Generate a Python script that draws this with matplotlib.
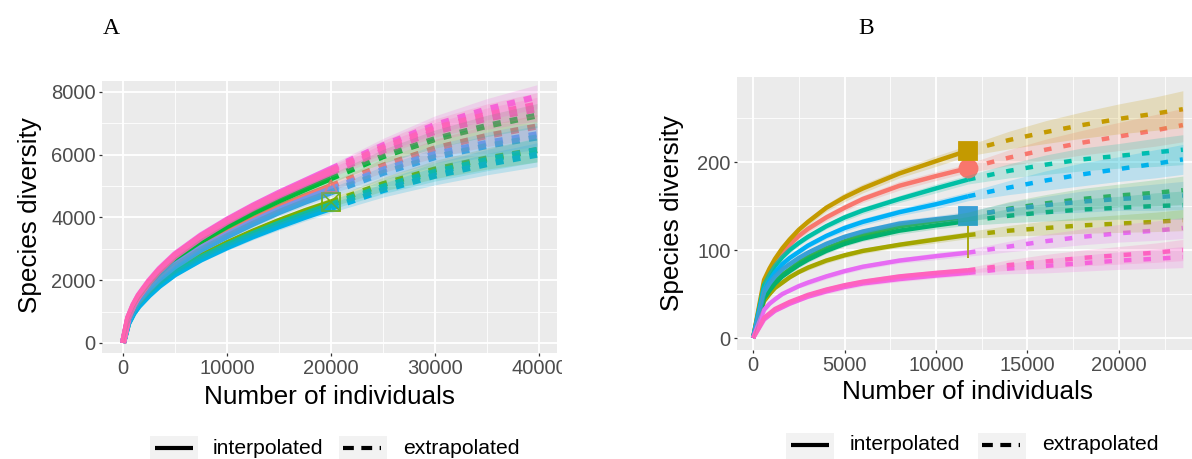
import matplotlib.pyplot as plt
from matplotlib.lines import Line2D
from matplotlib.patches import Rectangle

plt.rcParams['font.family'] = ['Liberation Sans', 'DejaVu Sans']

# ---------------- panel A data ----------------
a_x = [0, 500, 1000, 1500, 2500, 3500, 5000, 7500, 10000, 12500, 15000, 17500, 20000,
       25000, 30000, 35000, 39800]
a_split = 12  # last interpolated point
a_colors = ['#F8766D', '#7CAE00', '#00BA38', '#00BFB8', '#00B0E8',
            '#619CFF', '#3AA6DC', '#FF61C3', '#F564E3', '#FF64B0']
a_series = [
    [0, 720, 1090, 1360, 1770, 2110, 2540, 3090, 3550, 3960, 4340, 4680, 5000, 5650, 6200, 6600, 6900],
    [0, 650, 980, 1220, 1590, 1900, 2280, 2770, 3180, 3550, 3890, 4200, 4480, 5060, 5530, 5880, 6150],
    [0, 760, 1140, 1430, 1860, 2220, 2670, 3250, 3720, 4150, 4540, 4900, 5250, 5950, 6500, 6920, 7250],
    [0, 640, 960, 1200, 1560, 1860, 2240, 2720, 3120, 3480, 3810, 4110, 4400, 4980, 5450, 5830, 6150],
    [0, 620, 940, 1170, 1520, 1820, 2190, 2660, 3050, 3400, 3720, 4020, 4300, 4870, 5330, 5700, 6000],
    [0, 710, 1070, 1340, 1740, 2080, 2490, 3030, 3460, 3870, 4250, 4580, 4900, 5520, 6020, 6380, 6650],
    [0, 700, 1050, 1310, 1700, 2040, 2440, 2970, 3400, 3800, 4170, 4500, 4800, 5420, 5920, 6280, 6550],
    [0, 790, 1185, 1480, 1925, 2300, 2760, 3350, 3860, 4300, 4700, 5070, 5430, 6130, 6730, 7150, 7450],
    [0, 810, 1215, 1520, 1975, 2360, 2830, 3430, 3930, 4380, 4790, 5170, 5550, 6300, 6950, 7450, 7850],
    [0, 800, 1200, 1500, 1950, 2330, 2800, 3400, 3900, 4350, 4750, 5130, 5500, 6230, 6850, 7280, 7600],
]
a_ci = [0, 15, 25, 30, 45, 55, 65, 85, 100, 110, 120, 130, 140, 220, 290, 340, 380]
a_markers = {0: '^', 1: 's'}

# ---------------- panel B data ----------------
b_x = [0, 600, 900, 1200, 1600, 2000, 2500, 3000, 4000, 5000, 6000, 8000, 10000, 11750,
       14000, 16000, 18000, 20000, 22000, 23500]
b_split = 13
b_colors = ['#F8766D', '#C49A00', '#A3A500', '#2DB34A', '#00B070', '#00BFA5',
            '#00B0F6', '#3A9FD6', '#E76BF3', '#F564E3', '#FF62BC']
b_series = [
    [0, 62, 75, 86, 97, 106, 116, 124, 137, 148, 158, 173, 184, 193, 205, 214, 222, 229, 236, 242],
    [0, 66, 79, 90, 102, 112, 123, 132, 148, 160, 170, 187, 201, 213, 225, 234, 242, 249, 255, 260],
    [0, 42, 50, 57, 63, 69, 75, 80, 88, 94, 99, 106, 112, 117, 122, 125, 128, 130, 132, 134],
    [0, 46, 56, 64, 72, 78, 86, 92, 102, 110, 117, 127, 133, 138, 147, 153, 158, 162, 165, 168],
    [0, 45, 54, 62, 70, 76, 83, 89, 99, 107, 113, 122, 128, 133, 139, 143, 146, 148, 150, 151],
    [0, 60, 72, 82, 92, 100, 108, 115, 127, 137, 145, 158, 170, 180, 190, 197, 203, 207, 211, 214],
    [0, 55, 66, 75, 84, 91, 98, 105, 116, 125, 132, 143, 152, 161, 171, 179, 186, 192, 198, 203],
    [0, 52, 62, 70, 78, 84, 91, 97, 107, 115, 121, 130, 135, 139, 146, 151, 155, 158, 160, 162],
    [0, 32, 39, 44, 50, 54, 59, 63, 70, 76, 81, 88, 93, 97, 104, 110, 115, 119, 122, 125],
    [0, 21, 26, 31, 35, 39, 43, 47, 53, 58, 62, 67, 71, 74, 79, 82, 85, 88, 90, 92],
    [0, 23, 28, 33, 37, 41, 45, 49, 55, 60, 64, 70, 74, 77, 83, 87, 91, 94, 97, 100],
]
b_ci = [
    [0, 2, 2, 2, 3, 3, 3, 4, 4, 4, 4, 5, 5, 5, 9, 12, 14, 16, 18, 19],
    [0, 2, 2, 3, 3, 3, 3, 4, 4, 5, 5, 5, 6, 6, 10, 13, 15, 17, 19, 21],
    [0, 1, 1, 2, 2, 2, 2, 3, 3, 3, 3, 3, 4, 4, 6, 8, 9, 10, 11, 12],
    [0, 2, 2, 2, 2, 3, 3, 3, 3, 3, 3, 4, 4, 5, 8, 10, 12, 13, 15, 16],
    [0, 2, 2, 2, 2, 3, 3, 3, 3, 3, 3, 4, 4, 5, 8, 10, 12, 13, 15, 16],
    [0, 2, 2, 2, 3, 3, 3, 3, 3, 4, 4, 4, 5, 5, 8, 11, 13, 14, 16, 17],
    [0, 2, 2, 2, 3, 3, 3, 3, 3, 4, 4, 4, 5, 5, 8, 11, 13, 14, 16, 17],
    [0, 2, 2, 2, 2, 3, 3, 3, 3, 3, 3, 4, 4, 5, 8, 10, 12, 13, 15, 16],
    [0, 1, 1, 2, 2, 2, 2, 3, 3, 3, 3, 3, 4, 4, 6, 8, 9, 10, 11, 12],
    [0, 1, 1, 2, 2, 2, 2, 2, 3, 3, 3, 3, 3, 3, 6, 8, 9, 10, 11, 12],
    [0, 1, 1, 2, 2, 2, 2, 2, 3, 3, 3, 3, 3, 3, 6, 8, 9, 10, 11, 12],
]
b_markers = {0: 'o', 1: 's', 2: '|', 3: '*', 7: 's'}


def style_axes(ax, xmaj, xmin, ymaj, ymin):
    ax.set_facecolor('#EBEBEB')
    for s in ax.spines.values():
        s.set_visible(False)
    ax.set_xticks(xmaj)
    ax.set_xticks(xmin, minor=True)
    ax.set_yticks(ymaj)
    ax.set_yticks(ymin, minor=True)
    ax.grid(which='major', color='white', lw=1.3)
    ax.grid(which='minor', color='white', lw=0.6)
    ax.set_axisbelow(True)
    ax.tick_params(which='major', length=2.5, width=0.9, color='#333333',
                   labelcolor='#4D4D4D', labelsize=14.5, pad=2)
    ax.tick_params(which='minor', length=0)


def draw_panel(ax, x, series, cis, split, colors, markers, lw, dashes, msize, hollow):
    # observed points
    for i, m in markers.items():
        y = series[i]
        size = msize * 0.7 if m == '^' else msize
        if m == '|':
            size = msize * 2.6
        ax.plot(x[split], y[split], marker=m, ms=size, color=colors[i],
                mfc='none' if hollow else colors[i], mew=1.3, zorder=3)
        if hollow and m == 's':
            ax.plot(x[split], y[split], marker='x', ms=msize * 0.9,
                    color=colors[i], mew=1.1, zorder=3)
    for y, c in zip(series, colors):
        ax.plot(x[:split + 1], y[:split + 1], color=c, lw=lw,
                solid_capstyle='butt', zorder=2)
        ax.plot(x[split:], y[split:], color=c, lw=lw, dashes=dashes,
                dash_capstyle='butt', zorder=2)
    for y, ci, c in zip(series, cis, colors):
        lo = [v - e for v, e in zip(y, ci)]
        hi = [v + e for v, e in zip(y, ci)]
        ax.fill_between(x, lo, hi, color=c, alpha=0.2, lw=0, zorder=4)


fig = plt.figure(figsize=(11.92, 4.59), dpi=100)
W, H = 1192.0, 459.0

axA = fig.add_axes([102 / W, 1 - 353 / H, 455 / W, 272 / H])
style_axes(axA, [0, 10000, 20000, 30000, 40000], [5000, 15000, 25000, 35000],
           [0, 2000, 4000, 6000, 8000], [1000, 3000, 5000, 7000])
draw_panel(axA, a_x, a_series, [a_ci] * len(a_series), a_split, a_colors,
           a_markers, 4.4, (1.3, 1.5), 13, True)
axA.set_xlim(-2020, 41730)
axA.set_ylim(-320, 8350)

axB = fig.add_axes([737 / W, 1 - 350 / H, 455 / W, 273 / H])
style_axes(axB, [0, 5000, 10000, 15000, 20000], [2500, 7500, 12500, 17500, 22500],
           [0, 100, 200], [50, 150, 250])
draw_panel(axB, b_x, b_series, b_ci, b_split, b_colors, b_markers,
           3.2, (1.7, 2.7), 13, False)
axB.set_xlim(-880, 24000)
axB.set_ylim(-13.6, 296.6)

# axis titles and panel letters
lab = dict(fontsize=18.8, color='black', ha='center', va='center')
fig.text(329 / W, 1 - 397 / H, 'Number of individuals', **lab)
fig.text(30 / W, 1 - 215 / H, 'Species diversity', rotation=90, **lab)
fig.text(967 / W, 1 - 392 / H, 'Number of individuals', **lab)
fig.text(672 / W, 1 - 213 / H, 'Species diversity', rotation=90, **lab)
fig.text(111 / W, 1 - 28 / H, 'A', fontsize=17, family='Liberation Serif',
         ha='center', va='center')
fig.text(866 / W, 1 - 28 / H, 'B', fontsize=17, family='Liberation Serif',
         ha='center', va='center')

# crop of panel A's right side, as in the source image
fig.add_artist(Rectangle((562 / W, 0), 88 / W, 1, transform=fig.transFigure,
                         facecolor='white', edgecolor='none', zorder=10))


def legend_keys(x0, yc, x_text1, x_box2, x_text2):
    y = 1 - yc / H
    for bx in (x0, x_box2):
        fig.add_artist(Rectangle((bx / W, 0), 48 / W, (H - yc + 12) / H,
                                 transform=fig.transFigure, facecolor='#F2F2F2',
                                 edgecolor='none', zorder=11))
    fig.add_artist(Line2D([(x0 + 5) / W, (x0 + 43) / W], [y, y], color='black',
                          lw=3, solid_capstyle='butt', transform=fig.transFigure,
                          zorder=12))
    fig.add_artist(Line2D([(x_box2 + 4) / W, (x_box2 + 42) / W], [y, y],
                          color='black', lw=3, dashes=(2.6, 1.8),
                          dash_capstyle='butt', transform=fig.transFigure,
                          zorder=12))
    fig.text(x_text1 / W, y, 'interpolated', fontsize=15.2, va='center',
             zorder=12)
    fig.text(x_text2 / W, y, 'extrapolated', fontsize=15.2, va='center',
             zorder=12)


legend_keys(150, 448, 213, 339, 403)
legend_keys(786, 445, 850, 978, 1042)

fig.savefig('out.png', dpi=100)
